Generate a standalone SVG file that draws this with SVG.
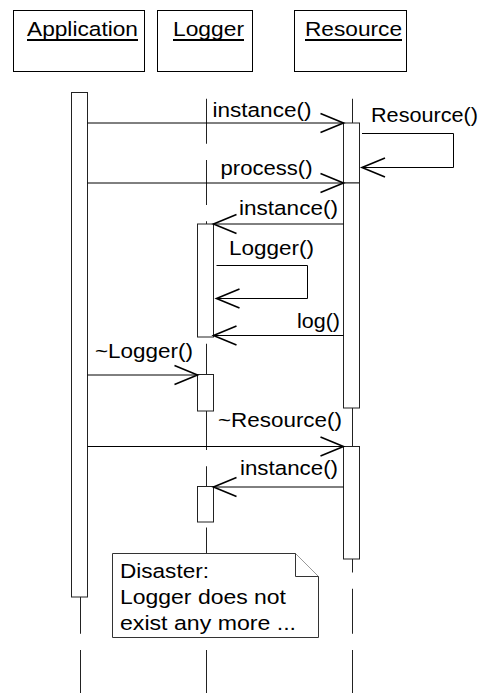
<svg xmlns="http://www.w3.org/2000/svg" width="480" height="693" viewBox="0 0 480 693">
  <style>
    text { font-family: "Liberation Sans", Arial, sans-serif; font-size: 20.5px; fill: #000; }
    .box { fill: #fff; stroke: #000; stroke-width: 1; }
    .life { fill: none; stroke: #222; stroke-width: 1; stroke-dasharray: 45 16.25; }
    .act { fill: #fff; stroke: #222; stroke-width: 1; }
    .msg { fill: none; stroke: #000; stroke-width: 1; marker-end: url(#open); }
    .ul { stroke: #000; stroke-width: 2; }
    .note { fill: #fff; stroke: #333; stroke-width: 1; }
  </style>
  <defs>
    <marker id="open" markerUnits="userSpaceOnUse" markerWidth="30" markerHeight="24" refX="0" refY="0" orient="auto" overflow="visible">
      <path d="M-23,-9.5 L0,0 L-23,9.5" fill="none" stroke="#000" stroke-width="1.6"/>
    </marker>
  </defs>

  <!-- participants -->
  <g id="application">
    <rect class="box" x="13.5" y="10.5" width="131" height="61"/>
    <text x="27" y="36" textLength="111" lengthAdjust="spacingAndGlyphs">Application</text>
    <line class="ul" x1="27" y1="40" x2="138" y2="40"/>
  </g>
  <g id="logger">
    <rect class="box" x="157.5" y="10.5" width="95" height="61"/>
    <text x="173" y="36" textLength="71" lengthAdjust="spacingAndGlyphs">Logger</text>
    <line class="ul" x1="173" y1="40" x2="244" y2="40"/>
  </g>
  <g id="resource">
    <rect class="box" x="294.5" y="10.5" width="112" height="61"/>
    <text x="305" y="36" textLength="97" lengthAdjust="spacingAndGlyphs">Resource</text>
    <line class="ul" x1="305" y1="40" x2="402" y2="40"/>
  </g>

  <!-- lifelines -->
  <g id="lifelines">
    <line class="life" x1="80.5" y1="98.75" x2="80.5" y2="693"/>
    <line class="life" x1="206.5" y1="98.75" x2="206.5" y2="693"/>
    <line class="life" x1="352.5" y1="98.75" x2="352.5" y2="693"/>
  </g>

  <!-- activation bars -->
  <g id="activations">
    <rect class="act" x="71.5" y="92.5" width="16" height="504.5"/>
    <rect class="act" x="343.5" y="123" width="16" height="60"/>
    <rect class="act" x="343.5" y="183" width="16" height="225"/>
    <rect class="act" x="343.5" y="446.5" width="16" height="112.5"/>
    <rect class="act" x="197.5" y="224" width="16" height="113"/>
    <rect class="act" x="197.5" y="374.5" width="16" height="36.5"/>
    <rect class="act" x="197.5" y="486.5" width="16" height="35.5"/>
  </g>

  <!-- messages -->
  <g id="connectors">
    <line class="msg" x1="87.5" y1="123" x2="343.5" y2="123"/>
    <polyline class="msg" points="362,133.5 453.5,133.5 453.5,167.5 362,167.5"/>
    <line class="msg" x1="87.5" y1="183" x2="343.5" y2="183"/>
    <line class="msg" x1="343.5" y1="224" x2="213.5" y2="224"/>
    <polyline class="msg" points="216.5,265.5 307.5,265.5 307.5,298.5 216.5,298.5"/>
    <line class="msg" x1="343.5" y1="335.5" x2="213.5" y2="335.5"/>
    <line class="msg" x1="87.5" y1="375" x2="197.5" y2="375"/>
    <line class="msg" x1="87.5" y1="446.5" x2="343.5" y2="446.5"/>
    <line class="msg" x1="343.5" y1="487" x2="213.5" y2="487"/>
  </g>

  <!-- message labels -->
  <g id="labels">
    <text x="212.5" y="117" textLength="99" lengthAdjust="spacingAndGlyphs">instance()</text>
    <text x="371" y="122" textLength="107" lengthAdjust="spacingAndGlyphs">Resource()</text>
    <text x="220.5" y="175" textLength="92" lengthAdjust="spacingAndGlyphs">process()</text>
    <text x="239" y="215" textLength="99" lengthAdjust="spacingAndGlyphs">instance()</text>
    <text x="229" y="255" textLength="85" lengthAdjust="spacingAndGlyphs">Logger()</text>
    <text x="297" y="328" textLength="43" lengthAdjust="spacingAndGlyphs">log()</text>
    <text x="95" y="358" textLength="98" lengthAdjust="spacingAndGlyphs">~Logger()</text>
    <text x="218" y="427" textLength="124" lengthAdjust="spacingAndGlyphs">~Resource()</text>
    <text x="240" y="475" textLength="98" lengthAdjust="spacingAndGlyphs">instance()</text>
  </g>

  <!-- comment note -->
  <g id="note">
    <path class="note" d="M112.5,553.5 L295.5,553.5 L318.5,576.5 L318.5,637.5 L112.5,637.5 Z"/>
    <path class="note" d="M295.5,553.5 L295.5,576.5 L318.5,576.5" fill="none"/>
    <text x="120" y="578" textLength="89" lengthAdjust="spacingAndGlyphs">Disaster:</text>
    <text x="120" y="604" textLength="166" lengthAdjust="spacingAndGlyphs">Logger does not</text>
    <text x="120" y="630" textLength="176" lengthAdjust="spacingAndGlyphs">exist any more ...</text>
  </g>
</svg>
